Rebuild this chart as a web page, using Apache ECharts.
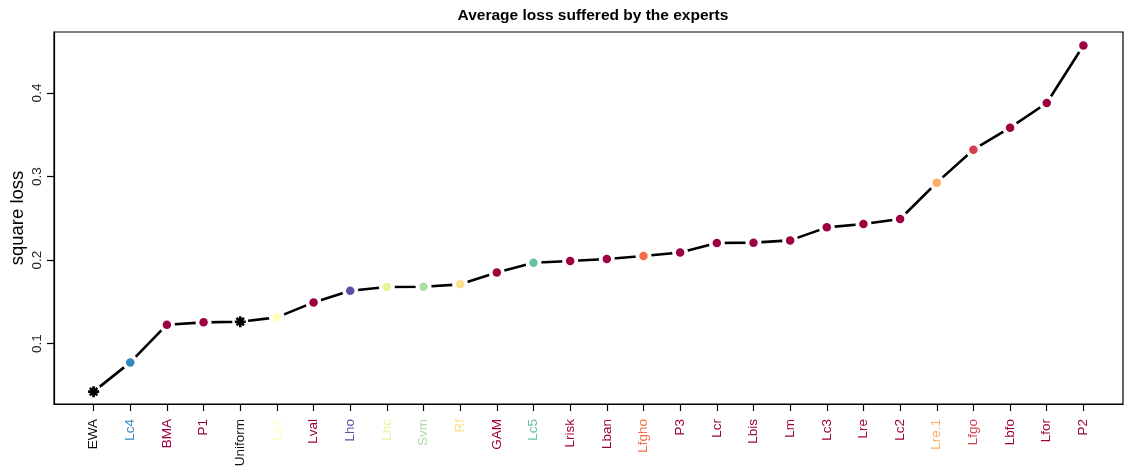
<!DOCTYPE html>
<html>
<head>
<meta charset="utf-8">
<script src="https://cdn.jsdelivr.net/npm/echarts@6/dist/echarts.min.js"></script>
<style>
    html, body { margin: 0; padding: 0; background: #fff; }
    #chart { width: 1128px; height: 475px; }
</style>
</head>
<body>
<div id="chart"></div>
<script>
// experts, in the order they appear on the x axis
const experts = ['EWA', 'Lc4', 'BMA', 'P1', 'Uniform', 'Lc1', 'Lval', 'Lho', 'Lhc', 'Svm', 'Rf', 'GAM', 'Lc5', 'Lrisk',
    'Lban', 'Lfgho', 'P3', 'Lcr', 'Lbis', 'Lm', 'Lc3', 'Lre', 'Lc2', 'Lre.1', 'Lfgo', 'Lbfo', 'Lfor', 'P2'];

// average square loss per expert
const avgLoss = [0.0426, 0.0776, 0.1227, 0.1255, 0.1263, 0.1315, 0.1494, 0.1634, 0.1678, 0.1682, 0.1710, 0.1853, 0.1969, 0.1990,
    0.2014, 0.2049, 0.2092, 0.2205, 0.2209, 0.2236, 0.2392, 0.2432, 0.2492, 0.2927, 0.3321, 0.3585, 0.3880, 0.4569];

// aggregation rules are drawn as a black asterisk
const aggregated = ['EWA', 'Uniform'];

const yTicks = [0.1, 0.2, 0.3, 0.4];

// Spectral palette, one colour per expert
const expertColors = ['#000000', '#3288bd', '#9e0142', '#9e0142', '#000000', '#ffffbf', '#9e0142', '#5e4fa2', '#e6f598',
    '#abdda4', '#fee08b', '#9e0142', '#66c2a5', '#9e0142', '#9e0142', '#f46d43', '#9e0142', '#9e0142', '#9e0142',
    '#9e0142', '#9e0142', '#9e0142', '#9e0142', '#fdae61', '#d53e4f', '#9e0142', '#9e0142', '#9e0142'];

const FONT = '"Liberation Sans", Arial, Helvetica, sans-serif';
const ASTERISK = 'path://M5,0L5,10M0,5L10,5M1.6,1.6L8.4,8.4M8.4,1.6L1.6,8.4';

// R pads the data range by 4% on each side
const xPad = (experts.length - 1) * 0.04;

const linePts = experts.map((n, i) => [i, avgLoss[i]]);
const markerPts = experts.map((n, i) => {
    const isAgg = aggregated.includes(n);
    return {
        value: [i, avgLoss[i]],
        symbol: isAgg ? ASTERISK : 'circle',
        symbolSize: isAgg ? 11 : 8.5,
        itemStyle: isAgg
            ? { color: 'none', borderColor: '#000', borderWidth: 2.6 }
            : { color: expertColors[i] }
    };
});

const chart = echarts.init(document.getElementById('chart'));
chart.setOption({
    animation: false,
    title: {
        text: 'Average loss suffered by the experts',
        left: 588,
        textAlign: 'center',
        top: 3,
        textStyle: { fontFamily: FONT, fontSize: 15.5, fontWeight: 'bold', color: '#000' }
    },
    grid: {
        left: 54, right: 5, top: 32, bottom: 71,
        outerBoundsMode: 'none',
        containLabel: false,
        show: true, borderColor: '#000', borderWidth: 1.2, backgroundColor: 'transparent'
    },
    xAxis: {
        type: 'value',
        min: -xPad,
        max: experts.length - 1 + xPad,
        splitLine: { show: false },
        axisLine: { show: true, onZero: false, lineStyle: { color: '#000', width: 1.2 } },
        axisTick: { show: true, length: 7, lineStyle: { color: '#000', width: 1.2 }, customValues: experts.map((n, i) => i) },
        axisLabel: {
            customValues: experts.map((n, i) => i),
            rotate: 90,
            margin: 15,
            fontFamily: FONT,
            fontSize: 13.5,
            formatter: v => experts[Math.round(v)],
            color: v => {
                const c = expertColors[Math.round(v)];
                return c === '#000000' ? '#111' : c;
            }
        }
    },
    yAxis: {
        type: 'value',
        min: 0.0278,
        max: 0.473,
        name: 'square loss',
        nameLocation: 'middle',
        nameGap: 27,
        nameMoveOverlap: false,
        nameTextStyle: { fontFamily: FONT, fontSize: 18.5, color: '#000' },
        splitLine: { show: false },
        axisLine: { show: true, onZero: false, lineStyle: { color: '#000', width: 1.2 } },
        axisTick: { show: true, length: 7, lineStyle: { color: '#000', width: 1.2 }, customValues: yTicks },
        axisLabel: {
            customValues: yTicks,
            rotate: 90,
            margin: 10,
            fontFamily: FONT,
            fontSize: 13.5,
            color: '#222',
            formatter: v => String(v)
        }
    },
    series: [
        {
            type: 'line',
            data: linePts,
            symbol: 'none',
            lineStyle: { color: '#000', width: 2.6 },
            z: 2
        },
        {
            // white halo so the line stops short of each point
            type: 'scatter',
            data: linePts,
            symbol: 'circle',
            symbolSize: 16,
            itemStyle: { color: '#fff', opacity: 1 },
            silent: true,
            z: 3
        },
        {
            type: 'scatter',
            data: markerPts,
            itemStyle: { opacity: 1 },
            z: 4
        }
    ]
});
</script>
</body>
</html>
